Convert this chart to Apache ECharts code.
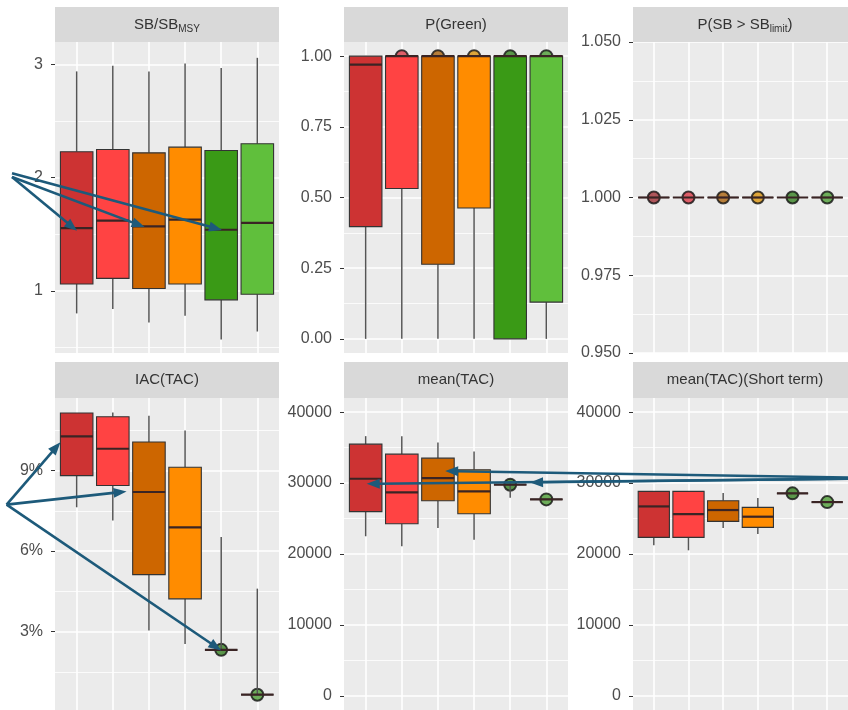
<!DOCTYPE html>
<html><head><meta charset="utf-8">
<script src="https://cdn.jsdelivr.net/npm/echarts@6/dist/echarts.min.js"></script>
<style>html,body{margin:0;padding:0;background:#fff}#c{width:848px;height:710px}</style>
</head><body><div id="c"></div><script>
// ---------------- data ----------------
const categories = ['1', '2', '3', '4', '5', '6'];
const boxColors = ['#CD3333', '#FF4343', '#CD6600', '#FF8C00', '#3A9A16', '#60BF3C'];
const pointColors = ['#9E3036', '#D83A46', '#A8620C', '#D8920C', '#347F20', '#4C9C34'];

// each row: [lower whisker, Q1, median, Q3, upper whisker]
const sbBox = [
  [0.80, 1.06, 1.555, 2.23, 2.94],
  [0.84, 1.11, 1.62, 2.25, 2.99],
  [0.72, 1.02, 1.57, 2.22, 2.94],
  [0.78, 1.06, 1.63, 2.27, 3.01],
  [0.57, 0.92, 1.54, 2.24, 2.97],
  [0.64, 0.97, 1.60, 2.30, 3.06]
];
const pGreenBox = [
  [0, 0.397, 0.97, 1, 1],
  [0, 0.532, 1, 1, 1],
  [0, 0.264, 1, 1, 1],
  [0, 0.463, 1, 1, 1],
  [0, 0, 1, 1, 1],
  [0, 0.13, 1, 1, 1]
];
const pLimitBox = [
  [1, 1, 1, 1, 1],
  [1, 1, 1, 1, 1],
  [1, 1, 1, 1, 1],
  [1, 1, 1, 1, 1],
  [1, 1, 1, 1, 1],
  [1, 1, 1, 1, 1]
];
const iacBox = [ // percent
  [7.63, 8.81, 10.27, 11.14, 11.14],
  [7.14, 8.44, 9.81, 11.0, 11.16],
  [3.04, 5.12, 8.2, 10.06, 11.04],
  [2.54, 4.22, 6.88, 9.12, 10.49],
  [2.32, 2.32, 2.32, 2.32, 6.52],
  [0.65, 0.65, 0.65, 0.65, 4.6]
];
const tacBox = [
  [22500, 25980, 30610, 35490, 36620],
  [21080, 24270, 28690, 34080, 36620],
  [23660, 27510, 30700, 33520, 35730],
  [22020, 25680, 28830, 31880, 34460],
  [27950, 29770, 29770, 29770, 30300],
  [27700, 27700, 27700, 27700, 27700]
];
const tacShortBox = [
  [21220, 22350, 26710, 28830, 28830],
  [20520, 22350, 25630, 28830, 28830],
  [23660, 24600, 26200, 27510, 28590],
  [22820, 23760, 25260, 26570, 27890],
  [28550, 28550, 28550, 28550, 28550],
  [27320, 27320, 27320, 27320, 27320]
];

const xGridValues = [1, 2, 3, 4, 5, 6];
const sbTicks = [1, 2, 3], sbMinor = [0.5, 1.5, 2.5];
const pGreenTicks = [0, 0.25, 0.5, 0.75, 1], pGreenMinor = [0.125, 0.375, 0.625, 0.875];
const pLimitTicks = [0.95, 0.975, 1.0, 1.025, 1.05], pLimitMinor = [0.9625, 0.9875, 1.0125, 1.0375];
const iacTicks = [3, 6, 9], iacMinor = [1.5, 4.5, 7.5, 10.5];
const tacTicks = [0, 10000, 20000, 30000, 40000], tacMinor = [5000, 15000, 25000, 35000];

// annotation arrows, in each panel's data coordinates
const arrows = [
  {grid: 0, from: [-0.79, 2.006], to: [1.01, 1.53]},
  {grid: 0, from: [-0.79, 2.006], to: [2.88, 1.564]},
  {grid: 0, from: [-0.79, 2.04], to: [5.02, 1.538]},
  {grid: 3, from: [-0.94, 7.73], to: [0.55, 10.05]},
  {grid: 3, from: [-0.94, 7.73], to: [2.38, 8.22]},
  {grid: 3, from: [-0.94, 7.73], to: [5.0, 2.30]},
  {grid: 4, from: [15.68, 30690], to: [3.2, 31700]},
  {grid: 4, from: [15.68, 30690], to: [5.55, 30100]},
  {grid: 4, from: [15.68, 30690], to: [1.03, 29900]}
];

// ---------------- layout / style ----------------
const FONT = '"Liberation Sans", Arial, sans-serif';
const colLeft = [55, 344, 633];
const rowTop = [42, 398];
const rowH = [311, 313];
const stripH = [35, 36];
const W = 224;

const panels = [
  {title: '{b|SB/SB}{s|MSY}', data: sbBox, min: 0.45, max: 3.2, major: sbTicks, minor: sbMinor, fmt: v => String(v)},
  {title: '{b|P(Green)}', data: pGreenBox, min: -0.05, max: 1.05, major: pGreenTicks, minor: pGreenMinor, fmt: v => Number(v).toFixed(2)},
  {title: '{b|P(SB > SB}{s|limit}{b|)}', data: pLimitBox, min: 0.95, max: 1.05, major: pLimitTicks, minor: pLimitMinor, fmt: v => Number(v).toFixed(3)},
  {title: '{b|IAC(TAC)}', data: iacBox, min: 0.08, max: 11.7, major: iacTicks, minor: iacMinor, fmt: v => v + '%'},
  {title: '{b|mean(TAC)}', data: tacBox, min: -2000, max: 42000, major: tacTicks, minor: tacMinor, fmt: v => String(v)},
  {title: '{b|mean(TAC)(Short term)}', data: tacShortBox, min: -2000, max: 42000, major: tacTicks, minor: tacMinor, fmt: v => String(v)}
];

const chart = echarts.init(document.getElementById('c'), null, {renderer: 'canvas'});

function renderBox(params, api) {
  const x = api.value(0);
  const lo = api.value(1), q1 = api.value(2), med = api.value(3), q3 = api.value(4), hi = api.value(5);
  const ci = api.value(6);
  const half = 0.45;
  const pHi = api.coord([x, hi]), pQ3 = api.coord([x, q3]), pQ1 = api.coord([x, q1]), pLo = api.coord([x, lo]);
  const tl = api.coord([x - half, q3]), br = api.coord([x + half, q1]);
  const mL = api.coord([x - half, med]), mR = api.coord([x + half, med]);
  const wStyle = {stroke: '#555555', lineWidth: 1.5};
  return {
    type: 'group',
    children: [
      {type: 'line', shape: {x1: pHi[0], y1: pHi[1], x2: pQ3[0], y2: pQ3[1]}, style: wStyle},
      {type: 'line', shape: {x1: pQ1[0], y1: pQ1[1], x2: pLo[0], y2: pLo[1]}, style: wStyle},
      {type: 'rect', shape: {x: tl[0], y: tl[1], width: br[0] - tl[0], height: br[1] - tl[1]},
        style: {fill: boxColors[ci], stroke: '#333333', lineWidth: 1.1}},
      {type: 'line', shape: {x1: mL[0], y1: mL[1], x2: mR[0], y2: mR[1]}, style: {stroke: '#3a2424', lineWidth: 2.2}}
    ]
  };
}

const grid = [], xAxis = [], yAxis = [], series = [];
panels.forEach((p, i) => {
  const r = Math.floor(i / 3), c = i % 3;
  grid.push({left: colLeft[c], top: rowTop[r], width: W, height: rowH[r], show: true,
    backgroundColor: '#EBEBEB', borderWidth: 0});
  xAxis.push({type: 'value', gridIndex: i, min: 0.4, max: 6.6,
    axisLine: {show: false}, axisLabel: {show: false},
    axisTick: {show: false, customValues: xGridValues},
    splitLine: {show: true, lineStyle: {color: '#FFFFFF', width: 1.6}}});
  yAxis.push({type: 'value', gridIndex: i, min: p.min, max: p.max,
    axisLine: {show: false},
    axisTick: {show: true, length: 4, lineStyle: {color: '#333333', width: 1}, customValues: p.major},
    axisLabel: {customValues: p.major, formatter: p.fmt, color: '#4D4D4D', fontSize: 16, margin: 12, fontFamily: FONT},
    splitLine: {show: true, lineStyle: {color: '#FFFFFF', width: 1.6}}});
  yAxis.push({type: 'value', gridIndex: i, min: p.min, max: p.max, position: 'left',
    axisLine: {show: false}, axisLabel: {show: false},
    axisTick: {show: false, customValues: p.minor},
    splitLine: {show: true, lineStyle: {color: '#FFFFFF', width: 0.8}}});
  series.push({type: 'scatter', xAxisIndex: i, yAxisIndex: 2 * i, z: 2, silent: true,
    symbol: 'circle', symbolSize: 12,
    data: p.data.map((row, k) => ({value: [k + 1, row[2]], itemStyle: {color: pointColors[k]}})),
    itemStyle: {borderColor: '#111111', borderWidth: 2}});
  series.push({type: 'custom', xAxisIndex: i, yAxisIndex: 2 * i, z: 3, silent: true, clip: false,
    data: p.data.map((row, k) => [k + 1, row[0], row[1], row[2], row[3], row[4], k]),
    renderItem: renderBox});
});

chart.setOption({
  animation: false,
  backgroundColor: '#FFFFFF',
  textStyle: {fontFamily: FONT},
  grid, xAxis, yAxis, series
});

// strips and arrows
const g = [];
panels.forEach((p, i) => {
  const r = Math.floor(i / 3), c = i % 3;
  const x = colLeft[c], y = rowTop[r] - stripH[r];
  g.push({type: 'rect', z: 50, silent: true, shape: {x: x, y: y, width: W, height: stripH[r]}, style: {fill: '#D9D9D9'}});
  g.push({type: 'text', z: 51, silent: true, x: x + W / 2, y: y + stripH[r] / 2,
    style: {text: p.title, align: 'center', verticalAlign: 'middle',
      rich: {
        b: {fontSize: 15, fontFamily: FONT, fill: '#333333'},
        s: {fontSize: 10, fontFamily: FONT, fill: '#333333', padding: [9, 0, 0, 0]}
      }}});
});
const arrowColor = '#1D5A7A';
arrows.forEach(a => {
  const p0 = chart.convertToPixel({gridIndex: a.grid}, a.from);
  const p1 = chart.convertToPixel({gridIndex: a.grid}, a.to);
  const dx = p1[0] - p0[0], dy = p1[1] - p0[1];
  const len = Math.sqrt(dx * dx + dy * dy);
  const ux = dx / len, uy = dy / len, nx = -uy, ny = ux;
  const L = 13, H = 5;
  const bx = p1[0] - ux * L, by = p1[1] - uy * L;
  g.push({type: 'line', z: 60, silent: true,
    shape: {x1: p0[0], y1: p0[1], x2: bx + ux * 2, y2: by + uy * 2},
    style: {stroke: arrowColor, lineWidth: 2.6}});
  g.push({type: 'polygon', z: 61, silent: true,
    shape: {points: [[p1[0], p1[1]], [bx + nx * H, by + ny * H], [bx - nx * H, by - ny * H]]},
    style: {fill: arrowColor}});
});
chart.setOption({graphic: g});
</script></body></html>
